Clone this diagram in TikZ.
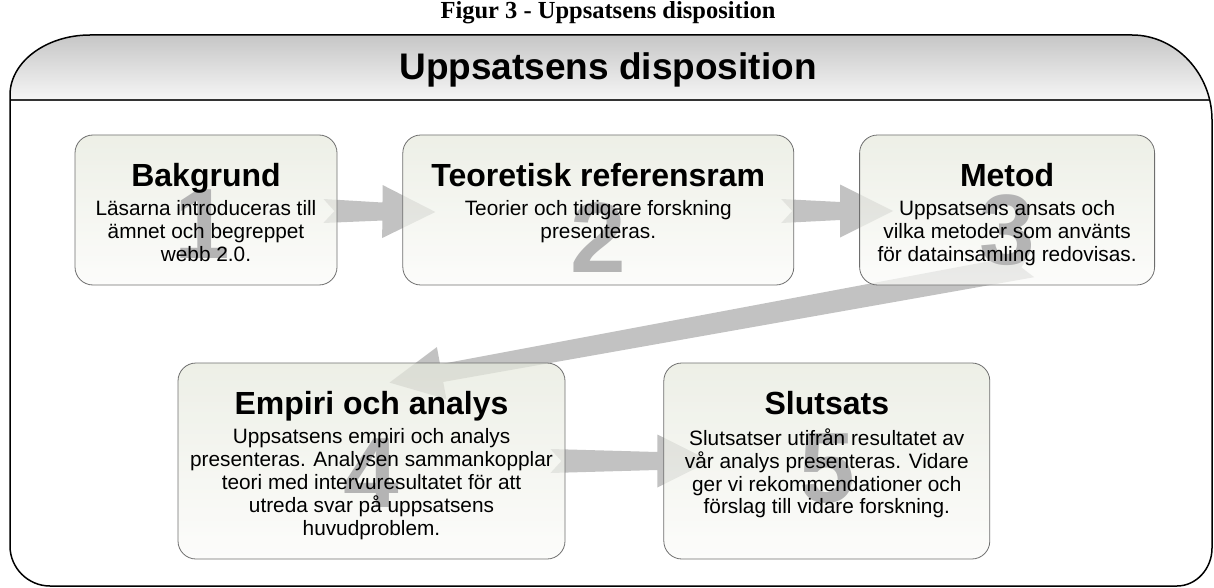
\documentclass[tikz,border=0pt]{standalone}
\usepackage{fontspec}
\setmainfont{Liberation Sans}
\newfontfamily\capfont{Liberation Serif}
\usetikzlibrary{calc,positioning}

\definecolor{boxtop}{HTML}{E6E9DD}
\definecolor{boxbot}{HTML}{FBFBF9}
\definecolor{boxline}{HTML}{6E6E6E}
\definecolor{arrowgray}{HTML}{C2C2C2}
\definecolor{numgray}{HTML}{B4B4B4}
\definecolor{headtop}{HTML}{C6C6C6}
\definecolor{headbot}{HTML}{F6F6F6}

\pgfdeclarelayer{arrows}
\pgfsetlayers{arrows,main}

% broad grey arrow with notched tail: #1 tail, #2 tip, #3 name
\newcommand\blockarrow[3]{%
  \coordinate (#3h) at ($(#2)!53pt!(#1)$);
  \fill[arrowgray]
       ($(#1)!12pt!90:(#2)$)
    -- ($(#1)!11pt!(#2)$)
    -- ($(#1)!12pt!-90:(#2)$)
    -- ($(#3h)!9pt!-90:(#2)$)
    -- ($(#3h)!26.5pt!-90:(#2)$)
    -- (#2)
    -- ($(#3h)!26.5pt!90:(#2)$)
    -- ($(#3h)!9pt!90:(#2)$)
    -- cycle;
}

\def\framepath{(10,95) .. controls (10,62) and (46,35) .. (90,35)
  -- (1132,35) .. controls (1176,35) and (1212,74) .. (1212,120)
  -- (1212,548) .. controls (1212,569) and (1196,586) .. (1177,586)
  -- (50,586) .. controls (28,586) and (10,568) .. (10,546) -- cycle}

\begin{document}
\begin{tikzpicture}[x=1pt, y=-1pt,
  stepbox/.style={rounded corners=18pt, draw=boxline, line width=0.8pt,
    top color=boxtop, bottom color=boxbot, fill opacity=0.72,
    draw opacity=1, minimum height=150pt, inner sep=0pt},
  boxtitle/.style={font=\bfseries\fontsize{32}{36}\selectfont,
    inner sep=0pt, anchor=base},
  boxtext/.style={font=\fontsize{20.8}{22.8}\selectfont, align=center,
    inner sep=0pt, anchor=north},
  numtext/.style={font=\bfseries\fontsize{100}{100}\selectfont,
    text=numgray, inner sep=0pt}]
\useasboundingbox (0,0) rectangle (1214,588);
%
% header band
\begin{scope}
  \clip \framepath;
  \shade[top color=headtop, bottom color=headbot] (0,35) rectangle (1214,100);
  \draw[line width=2.5pt, black!80] (0,100) -- (1214,100);
\end{scope}
\draw[line width=1.5pt] \framepath;
\node[font=\capfont\bfseries\fontsize{24.5}{28}\selectfont, inner sep=0pt]
  (cap) at (608,13) {Figur 3 - Uppsatsens disposition};
\node[font=\bfseries\fontsize{37}{40}\selectfont, inner sep=0pt]
  (head) at (608,70) {Uppsatsens disposition};
%
% boxes (empty, text set on top)
\coordinate (b1) at (206,210);
\coordinate (b4) at (371.5,461);
\node[stepbox, minimum width=262pt] (bak) at (b1) {};
\node[stepbox, minimum width=391pt, right=65pt of bak] (teori) {};
\node[stepbox, minimum width=295pt, right=65pt of teori] (metod) {};
\node[stepbox, minimum width=387pt, minimum height=196pt] (empiri) at (b4) {};
\node[stepbox, minimum width=326pt, minimum height=196pt,
  right=98pt of empiri] (slut) {};
%
% arrows, behind the boxes
\coordinate (a1) at ($(bak.east)+(-14,1)$);
\coordinate (a2) at ($(teori.west)+(33,2)$);
\coordinate (a3) at ($(teori.east)+(-13,1)$);
\coordinate (a4) at ($(metod.west)+(34,1)$);
\coordinate (a5) at ($(metod.south)+(25,-20)$);
\coordinate (a6) at ($(empiri.north)+(18,20)$);
\coordinate (a7) at ($(empiri.east)+(-15,0)$);
\coordinate (a8) at ($(slut.west)+(47,0)$);
\begin{pgfonlayer}{arrows}
  \blockarrow{a1}{a2}{p12}
  \blockarrow{a3}{a4}{p23}
  \blockarrow{a5}{a6}{p34}
  \blockarrow{a7}{a8}{p45}
\end{pgfonlayer}
%
% step numbers
\node[numtext] (bakN) at ($(bak.center)+(-4,14)$) {1};
\node[numtext] (teoriN) at ($(teori.center)+(0,28)$) {2};
\node[numtext] (metodN) at ($(metod.center)+(0,20)$) {3};
\node[numtext] (empiriN) at ($(empiri.center)+(0,12)$) {4};
\node[numtext] (slutN) at ($(slut.center)+(0,8)$) {5};
%
% titles and texts
\node[boxtitle] (bakT) at ($(bak.north)+(0,52)$) {Bakgrund};
\node[boxtitle] (teoriT) at ($(teori.north)+(0,52)$) {Teoretisk referensram};
\node[boxtitle] (metodT) at ($(metod.north)+(0,52)$) {Metod};
\node[boxtitle] (empiriT) at ($(empiri.north)+(0,52)$) {Empiri och analys};
\node[boxtitle] (slutT) at ($(slut.north)+(0,52)$) {Slutsats};
\node[boxtext] (bakB) at ($(bak.north)+(0,66)$)
  {Läsarna introduceras till\\ämnet och begreppet\\webb 2.0.};
\node[boxtext] (teoriB) at ($(teori.north)+(0,66)$)
  {Teorier och tidigare forskning\\presenteras.};
\node[boxtext] (metodB) at ($(metod.north)+(0,66)$)
  {Uppsatsens ansats och\\vilka metoder som använts\\för datainsamling redovisas.};
\node[boxtext] (empiriB) at ($(empiri.north)+(0,66)$)
  {Uppsatsens empiri och analys\\presenteras. Analysen sammankopplar\\teori med
   intervuresultatet för att\\utreda svar på uppsatsens\\huvudproblem.};
\node[boxtext] (slutB) at ($(slut.north)+(0,66)$)
  {Slutsatser utifrån resultatet av\\vår analys presenteras. Vidare\\ger vi
   rekommendationer och\\förslag till vidare forskning.};
\end{tikzpicture}
\end{document}
